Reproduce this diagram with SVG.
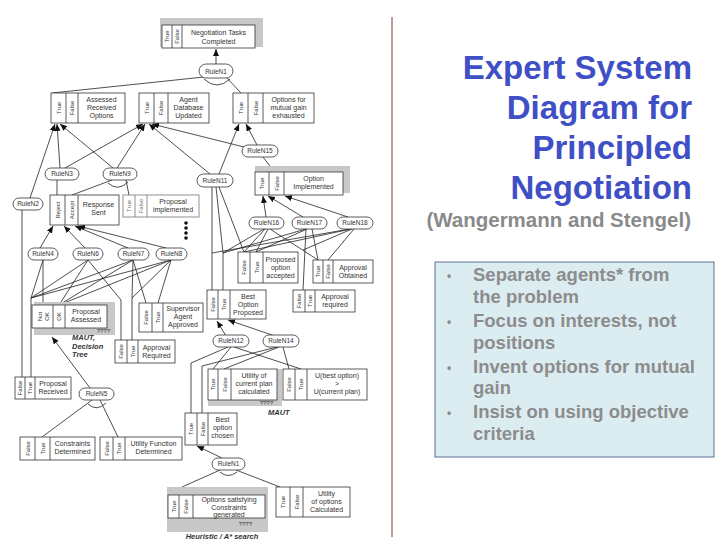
<svg xmlns="http://www.w3.org/2000/svg" width="720" height="540" viewBox="0 0 720 540">
<style>
.bx{fill:#fff;stroke:#333;stroke-width:0.8}
.sh{fill:#c8c8c8}
.rl{fill:#fff;stroke:#333;stroke-width:0.8}
.cl{stroke:#333;stroke-width:0.8}
.t{font-family:"Liberation Sans",Arial,sans-serif;font-size:7px;fill:#333;text-anchor:middle}
.r{font-family:"Liberation Sans",Arial,sans-serif;font-size:6.5px;fill:#333;text-anchor:middle}
.v{font-family:"Liberation Sans",Arial,sans-serif;font-size:6px;fill:#333;text-anchor:middle}
.it{font-family:"Liberation Sans",Arial,sans-serif;font-size:7.5px;font-weight:bold;font-style:italic;fill:#333}
.ln{stroke:#222;stroke-width:0.8;fill:none}
.ar{marker-end:url(#ah)}
.ttl{font-family:"Liberation Sans",Arial,sans-serif;font-size:33px;font-weight:bold;fill:#3f4fc6;text-anchor:end}
.sub{font-family:"Liberation Sans",Arial,sans-serif;font-size:20.5px;font-weight:bold;fill:#8a8a8a;text-anchor:end}
.bl{font-family:"Liberation Sans",Arial,sans-serif;font-size:18.5px;font-weight:bold;fill:#8c8c8c}
</style>
<defs>
<marker id="ah" markerWidth="7" markerHeight="6" refX="7" refY="3" orient="auto" markerUnits="userSpaceOnUse">
<path d="M0,0 L7,3 L0,6 z" fill="#111"/>
</marker>
</defs>
<rect width="720" height="540" fill="#fff"/>

<!-- connectors -->
<g id="connectors">
<line class="ln ar" x1="216" y1="64" x2="216" y2="49"/>
<line class="ln" x1="204" y1="77" x2="52" y2="93"/>
<line class="ln" x1="226" y1="77" x2="241" y2="93"/>
<path class="ln" d="M204,79 Q217,91 230,79"/>
<line class="ln ar" x1="30" y1="198" x2="55" y2="124"/>
<line class="ln ar" x1="60" y1="168" x2="57" y2="124"/>
<line class="ln ar" x1="113" y1="168" x2="60" y2="124"/>
<line class="ln ar" x1="65" y1="168" x2="143" y2="124"/>
<line class="ln ar" x1="117" y1="168" x2="145" y2="124"/>
<line class="ln ar" x1="210" y1="174" x2="149" y2="124"/>
<line class="ln ar" x1="248" y1="148" x2="152" y2="124"/>
<line class="ln ar" x1="219" y1="174" x2="239" y2="124"/>
<line class="ln ar" x1="257" y1="145" x2="246" y2="124"/>
<line class="ln" x1="263" y1="157" x2="270" y2="166"/>
<line class="ln" x1="57" y1="180" x2="57" y2="195"/>
<line class="ln" x1="112" y1="180" x2="72" y2="195"/>
<line class="ln" x1="126" y1="180" x2="129" y2="195"/>
<path class="ln" d="M108,183 Q118,192 128,182"/>
<line class="ln" x1="22" y1="210" x2="22" y2="377"/>
<line class="ln ar" x1="266" y1="217" x2="263" y2="196"/>
<line class="ln ar" x1="303" y1="217" x2="268" y2="196"/>
<line class="ln ar" x1="348" y1="217" x2="285" y2="196"/>
<line class="ln ar" x1="40" y1="248" x2="53" y2="226"/>
<line class="ln ar" x1="85" y1="248" x2="64" y2="226"/>
<line class="ln ar" x1="128" y1="248" x2="75" y2="226"/>
<line class="ln ar" x1="166" y1="248" x2="78" y2="226"/>
<line class="ln" x1="43" y1="260" x2="31" y2="298"/>
<line class="ln" x1="43" y1="260" x2="43" y2="305"/>
<line class="ln" x1="88" y1="260" x2="31" y2="298"/>
<line class="ln" x1="88" y1="260" x2="59" y2="305"/>
<polyline class="ln" points="88,260 121,300 121,340"/>
<line class="ln" x1="133" y1="260" x2="31" y2="298"/>
<line class="ln" x1="133" y1="260" x2="59" y2="305"/>
<line class="ln" x1="133" y1="260" x2="132" y2="298"/>
<line class="ln" x1="133" y1="260" x2="146" y2="303"/>
<line class="ln" x1="171" y1="260" x2="31" y2="298"/>
<line class="ln" x1="171" y1="260" x2="59" y2="305"/>
<line class="ln" x1="171" y1="260" x2="132" y2="298"/>
<line class="ln" x1="171" y1="260" x2="158" y2="303"/>
<line class="ln" x1="31" y1="298" x2="31" y2="377"/>
<line class="ln" x1="132" y1="298" x2="132" y2="340"/>
<line class="ln" x1="212" y1="187" x2="212" y2="253"/>
<line class="ln" x1="216" y1="187" x2="223" y2="253"/>
<line class="ln" x1="219" y1="187" x2="244" y2="252"/>
<line class="ln" x1="212" y1="253" x2="212" y2="290"/>
<line class="ln" x1="223" y1="253" x2="223" y2="290"/>
<line class="ln" x1="264" y1="229" x2="223" y2="253"/>
<line class="ln" x1="265" y1="229" x2="244" y2="252"/>
<line class="ln" x1="268" y1="229" x2="256" y2="252"/>
<line class="ln" x1="270" y1="229" x2="318" y2="260"/>
<line class="ln" x1="306" y1="229" x2="223" y2="253"/>
<line class="ln" x1="307" y1="229" x2="256" y2="252"/>
<line class="ln" x1="306" y1="229" x2="303" y2="290"/>
<line class="ln" x1="312" y1="229" x2="318" y2="260"/>
<line class="ln" x1="350" y1="229" x2="212" y2="253"/>
<line class="ln" x1="351" y1="229" x2="244" y2="252"/>
<line class="ln" x1="352" y1="229" x2="303" y2="250"/>
<line class="ln" x1="354" y1="229" x2="328" y2="260"/>
<line class="ln ar" x1="226" y1="336" x2="217" y2="321"/>
<line class="ln ar" x1="275" y1="336" x2="228" y2="320"/>
<polyline class="ln" points="228,347 191,363 191,413"/>
<line class="ln" x1="231" y1="347" x2="213" y2="369"/>
<line class="ln" x1="234" y1="347" x2="301" y2="369"/>
<polyline class="ln" points="277,347 202,366 202,413"/>
<line class="ln" x1="279" y1="347" x2="224" y2="369"/>
<line class="ln" x1="283" y1="347" x2="289" y2="369"/>
<line class="ln ar" x1="90" y1="388" x2="52" y2="337"/>
<line class="ln" x1="92" y1="400" x2="42" y2="437"/>
<line class="ln" x1="100" y1="400" x2="118" y2="437"/>
<path class="ln" d="M88,404 Q97,412 106,403"/>
<line class="ln ar" x1="222" y1="458" x2="197" y2="446"/>
<line class="ln" x1="220" y1="470" x2="182" y2="487"/>
<line class="ln" x1="236" y1="470" x2="280" y2="487"/>
<path class="ln" d="M220,472 Q228,479 237,472"/>
</g>

<!-- fact boxes -->
<g id="ntc">
<rect class="sh" x="160" y="18" width="103" height="29"/>
<rect class="bx" x="162" y="25" width="93" height="23"/>
<line class="cl" x1="172" y1="25" x2="172" y2="48"/><line class="cl" x1="182" y1="25" x2="182" y2="48"/>
<text class="v" transform="translate(167,36.5) rotate(-90)" dy="2">True</text>
<text class="v" transform="translate(177,36.5) rotate(-90)" dy="2">False</text>
<text class="t" x="218.5" y="35">Negotiation Tasks</text><text class="t" x="218.5" y="43.5">Completed</text>
</g>
<g id="aro">
<rect class="bx" x="51" y="93" width="74" height="30"/>
<line class="cl" x1="66" y1="93" x2="66" y2="123"/><line class="cl" x1="78" y1="93" x2="78" y2="123"/>
<text class="v" transform="translate(58.5,108) rotate(-90)" dy="2">True</text>
<text class="v" transform="translate(72,108) rotate(-90)" dy="2">False</text>
<text class="t" x="101.5" y="102">Assessed</text><text class="t" x="101.5" y="110">Received</text><text class="t" x="101.5" y="118">Options</text>
</g>
<g id="adu">
<rect class="bx" x="139" y="93" width="70" height="30"/>
<line class="cl" x1="154" y1="93" x2="154" y2="123"/><line class="cl" x1="168" y1="93" x2="168" y2="123"/>
<text class="v" transform="translate(146.5,108) rotate(-90)" dy="2">True</text>
<text class="v" transform="translate(161,108) rotate(-90)" dy="2">False</text>
<text class="t" x="188.5" y="102">Agent</text><text class="t" x="188.5" y="110">Database</text><text class="t" x="188.5" y="118">Updated</text>
</g>
<g id="ome">
<rect class="bx" x="233" y="93" width="81" height="30"/>
<line class="cl" x1="248" y1="93" x2="248" y2="123"/><line class="cl" x1="263" y1="93" x2="263" y2="123"/>
<text class="v" transform="translate(240.5,108) rotate(-90)" dy="2">True</text>
<text class="v" transform="translate(255.5,108) rotate(-90)" dy="2">False</text>
<text class="t" x="288.5" y="102">Options for</text><text class="t" x="288.5" y="110">mutual gain</text><text class="t" x="288.5" y="118">exhausted</text>
</g>
<g id="rs">
<rect class="bx" x="50" y="195" width="69" height="30"/>
<line class="cl" x1="65" y1="195" x2="65" y2="225"/><line class="cl" x1="78" y1="195" x2="78" y2="225"/>
<text class="v" transform="translate(57.5,210) rotate(-90)" dy="2">Reject</text>
<text class="v" transform="translate(71.5,210) rotate(-90)" dy="2">Accept</text>
<text class="t" x="98.5" y="207">Response</text><text class="t" x="98.5" y="215">Sent</text>
</g>
<g id="pi">
<rect class="bx" x="123" y="195" width="76" height="22" style="stroke:#777"/>
<line class="cl" x1="135" y1="195" x2="135" y2="217" style="stroke:#777"/><line class="cl" x1="147" y1="195" x2="147" y2="217" style="stroke:#777"/>
<text class="v" transform="translate(129,206) rotate(-90)" dy="2" style="fill:#777">True</text>
<text class="v" transform="translate(141,206) rotate(-90)" dy="2" style="fill:#777">False</text>
<text class="t" x="173" y="203.5">Proposal</text><text class="t" x="173" y="211.5">implemented</text>
<circle cx="186" cy="223" r="1.8" fill="#111"/><circle cx="186" cy="228" r="1.8" fill="#111"/><circle cx="186" cy="233" r="1.8" fill="#111"/><circle cx="186" cy="238" r="1.8" fill="#111"/>
</g>
<g id="oi">
<rect class="sh" x="255" y="166" width="95" height="27"/>
<rect class="bx" x="255" y="172" width="88" height="23"/>
<line class="cl" x1="269" y1="172" x2="269" y2="195"/><line class="cl" x1="284" y1="172" x2="284" y2="195"/>
<text class="v" transform="translate(262,183.5) rotate(-90)" dy="2">True</text>
<text class="v" transform="translate(276.5,183.5) rotate(-90)" dy="2">False</text>
<text class="t" x="313.5" y="181">Option</text><text class="t" x="313.5" y="189">Implemented</text>
</g>
<g id="pa">
<rect class="sh" x="34" y="302" width="81" height="33"/>
<rect class="bx" x="32" y="305" width="75" height="23"/>
<line class="cl" x1="53" y1="305" x2="53" y2="328"/><line class="cl" x1="65" y1="305" x2="65" y2="328"/>
<text class="v" transform="translate(40,316.5) rotate(-90)" dy="2">Not</text>
<text class="v" transform="translate(47,316.5) rotate(-90)" dy="2">OK</text>
<text class="v" transform="translate(59,316.5) rotate(-90)" dy="2">OK</text>
<text class="t" x="86" y="314">Proposal</text><text class="t" x="86" y="322">Assessed</text>
<text class="t" x="110" y="333" style="text-anchor:end;font-size:6px">????</text>
<text class="it" x="72" y="340">MAUT,</text><text class="it" x="72" y="348.5">Decision</text><text class="it" x="72" y="357">Tree</text>
</g>
<g id="saa">
<rect class="bx" x="139" y="303" width="64" height="29"/>
<line class="cl" x1="152" y1="303" x2="152" y2="332"/><line class="cl" x1="163" y1="303" x2="163" y2="332"/>
<text class="v" transform="translate(145.5,317.5) rotate(-90)" dy="2">False</text>
<text class="v" transform="translate(157.5,317.5) rotate(-90)" dy="2">True</text>
<text class="t" x="183" y="310.5">Supervisor</text><text class="t" x="183" y="318.5">Agent</text><text class="t" x="183" y="326.5">Approved</text>
</g>
<g id="poa">
<rect class="bx" x="238" y="252" width="60" height="31"/>
<line class="cl" x1="250" y1="252" x2="250" y2="283"/><line class="cl" x1="263" y1="252" x2="263" y2="283"/>
<text class="v" transform="translate(244,267.5) rotate(-90)" dy="2">False</text>
<text class="v" transform="translate(256.5,267.5) rotate(-90)" dy="2">True</text>
<text class="t" x="280.5" y="261.5">Proposed</text><text class="t" x="280.5" y="269.5">option</text><text class="t" x="280.5" y="277.5">accepted</text>
</g>
<g id="ao">
<rect class="bx" x="313" y="260" width="60" height="23"/>
<line class="cl" x1="323" y1="260" x2="323" y2="283"/><line class="cl" x1="333" y1="260" x2="333" y2="283"/>
<text class="v" transform="translate(318,271.5) rotate(-90)" dy="2">True</text>
<text class="v" transform="translate(328,271.5) rotate(-90)" dy="2">False</text>
<text class="t" x="353" y="269.5">Approval</text><text class="t" x="353" y="277.5">Obtained</text>
</g>
<g id="areq">
<rect class="bx" x="293" y="290" width="62" height="22"/>
<line class="cl" x1="305" y1="290" x2="305" y2="312"/><line class="cl" x1="315" y1="290" x2="315" y2="312"/>
<text class="v" transform="translate(299,301) rotate(-90)" dy="2">False</text>
<text class="v" transform="translate(310,301) rotate(-90)" dy="2">True</text>
<text class="t" x="335" y="299">Approval</text><text class="t" x="335" y="307">required</text>
</g>
<g id="bop">
<rect class="bx" x="207" y="290" width="59" height="29"/>
<line class="cl" x1="218" y1="290" x2="218" y2="319"/><line class="cl" x1="230" y1="290" x2="230" y2="319"/>
<text class="v" transform="translate(212.5,304.5) rotate(-90)" dy="2">False</text>
<text class="v" transform="translate(224,304.5) rotate(-90)" dy="2">True</text>
<text class="t" x="248" y="298.5">Best</text><text class="t" x="248" y="306.5">Option</text><text class="t" x="248" y="314.5">Proposed</text>
</g>
<g id="arl">
<rect class="bx" x="115" y="340" width="60" height="23"/>
<line class="cl" x1="127" y1="340" x2="127" y2="363"/><line class="cl" x1="138" y1="340" x2="138" y2="363"/>
<text class="v" transform="translate(121,351.5) rotate(-90)" dy="2">False</text>
<text class="v" transform="translate(132.5,351.5) rotate(-90)" dy="2">True</text>
<text class="t" x="156.5" y="349.5">Approval</text><text class="t" x="156.5" y="357.5">Required</text>
</g>
<g id="pr">
<rect class="bx" x="15" y="377" width="56" height="22"/>
<line class="cl" x1="25" y1="377" x2="25" y2="399"/><line class="cl" x1="35" y1="377" x2="35" y2="399"/>
<text class="v" transform="translate(20,388) rotate(-90)" dy="2">False</text>
<text class="v" transform="translate(30,388) rotate(-90)" dy="2">True</text>
<text class="t" x="53" y="386">Proposal</text><text class="t" x="53" y="394">Received</text>
</g>
<g id="ucp">
<rect class="sh" x="208" y="369" width="74" height="37"/>
<rect class="bx" x="208" y="369" width="69" height="31"/>
<line class="cl" x1="218" y1="369" x2="218" y2="400"/><line class="cl" x1="231" y1="369" x2="231" y2="400"/>
<text class="v" transform="translate(213,384.5) rotate(-90)" dy="2">True</text>
<text class="v" transform="translate(224.5,384.5) rotate(-90)" dy="2">False</text>
<text class="t" x="254" y="378">Utility of</text><text class="t" x="254" y="386">current plan</text><text class="t" x="254" y="394">calculated</text>
<text class="t" x="273" y="405" style="text-anchor:end;font-size:6px">????</text>
<text class="it" x="268" y="415">MAUT</text>
</g>
<g id="ubo">
<rect class="bx" x="283" y="369" width="84" height="31"/>
<line class="cl" x1="295" y1="369" x2="295" y2="400"/><line class="cl" x1="307" y1="369" x2="307" y2="400"/>
<text class="v" transform="translate(289,384.5) rotate(-90)" dy="2">False</text>
<text class="v" transform="translate(301,384.5) rotate(-90)" dy="2">True</text>
<text class="t" x="337" y="378">U(best option)</text><text class="t" x="337" y="386">&gt;</text><text class="t" x="337" y="394">U(current plan)</text>
</g>
<g id="boc">
<rect class="bx" x="185" y="413" width="52" height="32"/>
<line class="cl" x1="197" y1="413" x2="197" y2="445"/><line class="cl" x1="208" y1="413" x2="208" y2="445"/>
<text class="v" transform="translate(191,429) rotate(-90)" dy="2">True</text>
<text class="v" transform="translate(202.5,429) rotate(-90)" dy="2">False</text>
<text class="t" x="222.5" y="422">Best</text><text class="t" x="222.5" y="430">option</text><text class="t" x="222.5" y="438">chosen</text>
</g>
<g id="cd">
<rect class="bx" x="20" y="437" width="75" height="23"/>
<line class="cl" x1="35" y1="437" x2="35" y2="460"/><line class="cl" x1="50" y1="437" x2="50" y2="460"/>
<text class="v" transform="translate(27.5,448.5) rotate(-90)" dy="2">False</text>
<text class="v" transform="translate(42.5,448.5) rotate(-90)" dy="2">True</text>
<text class="t" x="72.5" y="446">Constraints</text><text class="t" x="72.5" y="454">Determined</text>
</g>
<g id="ufd">
<rect class="bx" x="100" y="437" width="82" height="23"/>
<line class="cl" x1="113" y1="437" x2="113" y2="460"/><line class="cl" x1="125" y1="437" x2="125" y2="460"/>
<text class="v" transform="translate(106.5,448.5) rotate(-90)" dy="2">False</text>
<text class="v" transform="translate(119,448.5) rotate(-90)" dy="2">True</text>
<text class="t" x="153.5" y="446">Utility Function</text><text class="t" x="153.5" y="454">Determined</text>
</g>
<g id="osc">
<rect class="sh" x="167" y="487" width="101" height="45"/>
<rect class="bx" x="168" y="495" width="97" height="23"/>
<line class="cl" x1="179" y1="495" x2="179" y2="518"/><line class="cl" x1="193" y1="495" x2="193" y2="518"/>
<text class="v" transform="translate(173.5,506.5) rotate(-90)" dy="2">True</text>
<text class="v" transform="translate(186,506.5) rotate(-90)" dy="2">False</text>
<text class="t" x="229" y="502">Options satisfying</text><text class="t" x="229" y="509.5">Constraints</text><text class="t" x="229" y="517">generated</text>
<text class="t" x="252" y="526" style="text-anchor:end;font-size:6px">????</text>
<text class="it" x="222" y="539" style="text-anchor:middle">Heuristic / A* search</text>
</g>
<g id="uoc">
<rect class="bx" x="276" y="487" width="74" height="30"/>
<line class="cl" x1="290" y1="487" x2="290" y2="517"/><line class="cl" x1="303" y1="487" x2="303" y2="517"/>
<text class="v" transform="translate(283,502) rotate(-90)" dy="2">True</text>
<text class="v" transform="translate(296.5,502) rotate(-90)" dy="2">False</text>
<text class="t" x="326.5" y="496">Utility</text><text class="t" x="326.5" y="504">of options</text><text class="t" x="326.5" y="512">Calculated</text>
</g>

<!-- rules -->
<g id="ruleN1a"><rect class="rl" x="199" y="64" width="34" height="14" rx="7"/><text class="r" x="216" y="73.5">RuleN1</text></g>
<g id="ruleN15"><rect class="rl" x="242" y="145" width="36" height="12" rx="6"/><text class="r" x="260" y="153.3">RuleN15</text></g>
<g id="ruleN3"><rect class="rl" x="45" y="168" width="34" height="12" rx="6"/><text class="r" x="62" y="176.3">RuleN3</text></g>
<g id="ruleN9"><rect class="rl" x="103" y="168" width="34" height="12" rx="6"/><text class="r" x="120" y="176.3">RuleN9</text></g>
<g id="ruleN2"><rect class="rl" x="13" y="198" width="30" height="12" rx="6"/><text class="r" x="28" y="206.3">RuleN2</text></g>
<g id="ruleN11"><rect class="rl" x="197" y="174" width="36" height="13" rx="6.5"/><text class="r" x="215" y="182.8">RuleN11</text></g>
<g id="ruleN16"><rect class="rl" x="249" y="217" width="35" height="12" rx="6"/><text class="r" x="266.5" y="225.3">RuleN16</text></g>
<g id="ruleN17"><rect class="rl" x="292" y="217" width="35" height="12" rx="6"/><text class="r" x="309.5" y="225.3">RuleN17</text></g>
<g id="ruleN18"><rect class="rl" x="337" y="217" width="36" height="12" rx="6"/><text class="r" x="355" y="225.3">RuleN18</text></g>
<g id="ruleN4"><rect class="rl" x="28" y="248" width="30" height="12" rx="6"/><text class="r" x="43" y="256.3">RuleN4</text></g>
<g id="ruleN6"><rect class="rl" x="73" y="248" width="30" height="12" rx="6"/><text class="r" x="88" y="256.3">RuleN6</text></g>
<g id="ruleN7"><rect class="rl" x="118" y="248" width="31" height="12" rx="6"/><text class="r" x="133.5" y="256.3">RuleN7</text></g>
<g id="ruleN8"><rect class="rl" x="156" y="248" width="31" height="12" rx="6"/><text class="r" x="171.5" y="256.3">RuleN8</text></g>
<g id="ruleN12"><rect class="rl" x="213" y="335" width="36" height="12" rx="6"/><text class="r" x="231" y="343.3">RuleN12</text></g>
<g id="ruleN14"><rect class="rl" x="263" y="335" width="36" height="12" rx="6"/><text class="r" x="281" y="343.3">RuleN14</text></g>
<g id="ruleN5"><rect class="rl" x="79" y="388" width="35" height="12" rx="6"/><text class="r" x="96.5" y="396.3">RuleN5</text></g>
<g id="ruleN1b"><rect class="rl" x="212" y="458" width="33" height="12" rx="6"/><text class="r" x="228.5" y="466.3">RuleN1</text></g>

<!-- divider -->
<line x1="392" y1="17" x2="392" y2="537" stroke="#7a3a2e" stroke-width="1"/>

<!-- title -->
<g id="title">
<text class="ttl" x="692" y="79">Expert System</text>
<text class="ttl" x="692" y="119">Diagram for</text>
<text class="ttl" x="692" y="159">Principled</text>
<text class="ttl" x="692" y="199">Negotiation</text>
<text class="sub" x="691" y="227">(Wangermann and Stengel)</text>
</g>

<!-- bullets -->
<g id="bullets">
<rect x="435" y="262" width="279" height="195" fill="#dcedf2" stroke="#5d6f98" stroke-width="1"/>
<text class="bl" x="447" y="280" style="font-size:12px">•</text>
<text class="bl" x="473" y="281">Separate agents* from</text>
<text class="bl" x="473" y="303">the problem</text>
<text class="bl" x="447" y="326" style="font-size:12px">•</text>
<text class="bl" x="473" y="327">Focus on interests, not</text>
<text class="bl" x="473" y="349">positions</text>
<text class="bl" x="447" y="372" style="font-size:12px">•</text>
<text class="bl" x="473" y="373">Invent options for mutual</text>
<text class="bl" x="473" y="394">gain</text>
<text class="bl" x="447" y="417" style="font-size:12px">•</text>
<text class="bl" x="473" y="418">Insist on using objective</text>
<text class="bl" x="473" y="440">criteria</text>
</g>
</svg>
